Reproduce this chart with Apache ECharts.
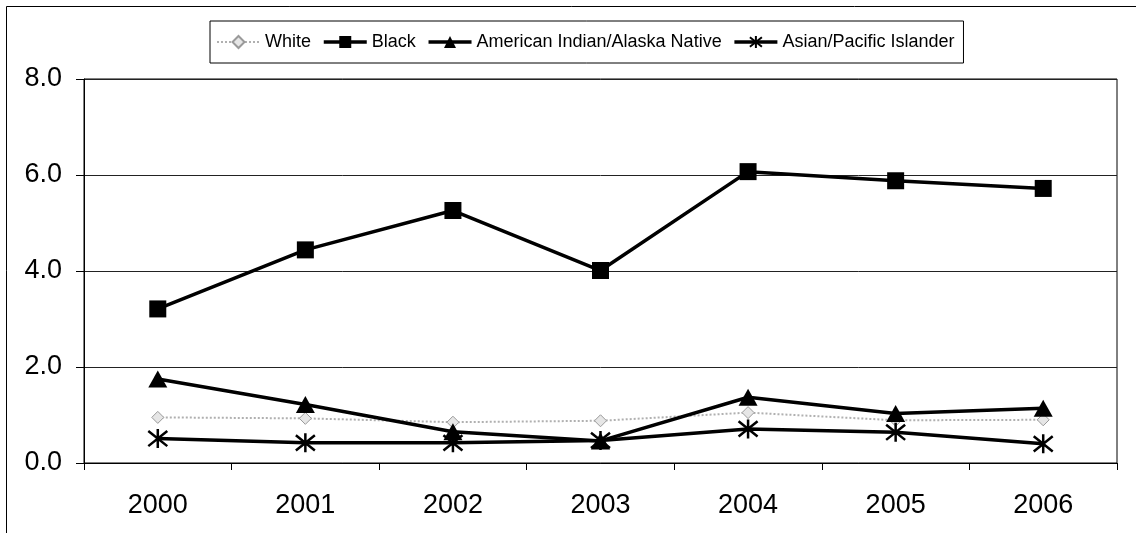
<!DOCTYPE html>
<html>
<head>
<meta charset="utf-8">
<script src="https://cdn.jsdelivr.net/npm/echarts@6/dist/echarts.min.js"></script>
<style>
  html, body { margin: 0; padding: 0; background: #fff; }
  #chart { width: 1136px; height: 533px; }
</style>
</head>
<body>
<div id="chart"></div>
<script>
// Rates by race, 2000-2006
const years = ['2000', '2001', '2002', '2003', '2004', '2005', '2006'];
const white = [0.95, 0.93, 0.85, 0.88, 1.05, 0.89, 0.90];
const black = [3.21, 4.44, 5.26, 4.01, 6.07, 5.88, 5.72];
const aian = [1.75, 1.22, 0.65, 0.46, 1.37, 1.03, 1.14];
const asian = [0.51, 0.42, 0.42, 0.47, 0.71, 0.64, 0.40];
const yTicks = [0, 2, 4, 6, 8];

// Asterisk marker: a vertical stroke crossed by an X
const asterisk = 'path://M5,0L5,10M1,1L9,9M1,9L9,1';

const chart = echarts.init(document.getElementById('chart'), null, { renderer: 'canvas' });

const font = 'Liberation Sans, Arial, Helvetica, sans-serif';

chart.setOption({
  animation: false,
  backgroundColor: '#fff',
  textStyle: { fontFamily: font, color: '#000' },
  graphic: [{
    type: 'rect',
    shape: { x: 6.5, y: 6.5, width: 1200, height: 600 },
    style: { fill: 'none', stroke: '#000', lineWidth: 1 },
    silent: true, z: -1
  }],
  legend: {
    left: 210,
    top: 21,
    padding: [12, 9, 12, 6],
    itemGap: 11,
    itemWidth: 43,
    itemHeight: 15,
    borderColor: '#000',
    borderWidth: 1,
    lineStyle: { width: 'inherit' },
    textStyle: { fontFamily: font, fontSize: 18, color: '#000' },
    data: ['White', 'Black', 'American Indian/Alaska Native', 'Asian/Pacific Islander']
  },
  grid: {
    left: 84, right: 19, top: 79, bottom: 70,
    show: true, borderColor: '#000', borderWidth: 1
  },
  xAxis: {
    type: 'category',
    data: years,
    boundaryGap: true,
    axisLine: { lineStyle: { color: '#000', width: 1 } },
    axisTick: { show: true, length: 7, lineStyle: { color: '#000' } },
    axisLabel: { fontSize: 27, color: '#000', margin: 29, fontFamily: font }
  },
  yAxis: {
    type: 'value',
    min: yTicks[0],
    max: yTicks[yTicks.length - 1],
    interval: 2,
    axisLine: { show: true, lineStyle: { color: '#000', width: 1 } },
    axisTick: { show: true, length: 8, lineStyle: { color: '#000' } },
    axisLabel: {
      fontSize: 27, color: '#000', margin: 22, fontFamily: font,
      formatter: v => v.toFixed(1)
    },
    splitLine: { show: true, lineStyle: { color: '#222', width: 1 } }
  },
  series: [
    {
      name: 'White', type: 'line', data: white,
      symbol: 'diamond', symbolSize: 12,
      lineStyle: { color: '#b0b0b0', width: 2, type: 'dotted' },
      itemStyle: { color: '#e6e6e6', borderColor: '#9a9a9a', borderWidth: 1 },
      z: 1
    },
    {
      name: 'Black', type: 'line', data: black,
      symbol: 'rect', symbolSize: 17,
      lineStyle: { color: '#000', width: 3.5 },
      itemStyle: { color: '#000' },
      z: 3
    },
    {
      name: 'American Indian/Alaska Native', type: 'line', data: aian,
      symbol: 'triangle', symbolSize: [19, 17],
      lineStyle: { color: '#000', width: 3.5 },
      itemStyle: { color: '#000' },
      z: 3
    },
    {
      name: 'Asian/Pacific Islander', type: 'line', data: asian,
      symbol: asterisk, symbolSize: 19,
      lineStyle: { color: '#000', width: 3.5 },
      itemStyle: { color: '#000', borderColor: '#000', borderWidth: 2.5 },
      z: 2
    }
  ]
});
</script>
</body>
</html>
